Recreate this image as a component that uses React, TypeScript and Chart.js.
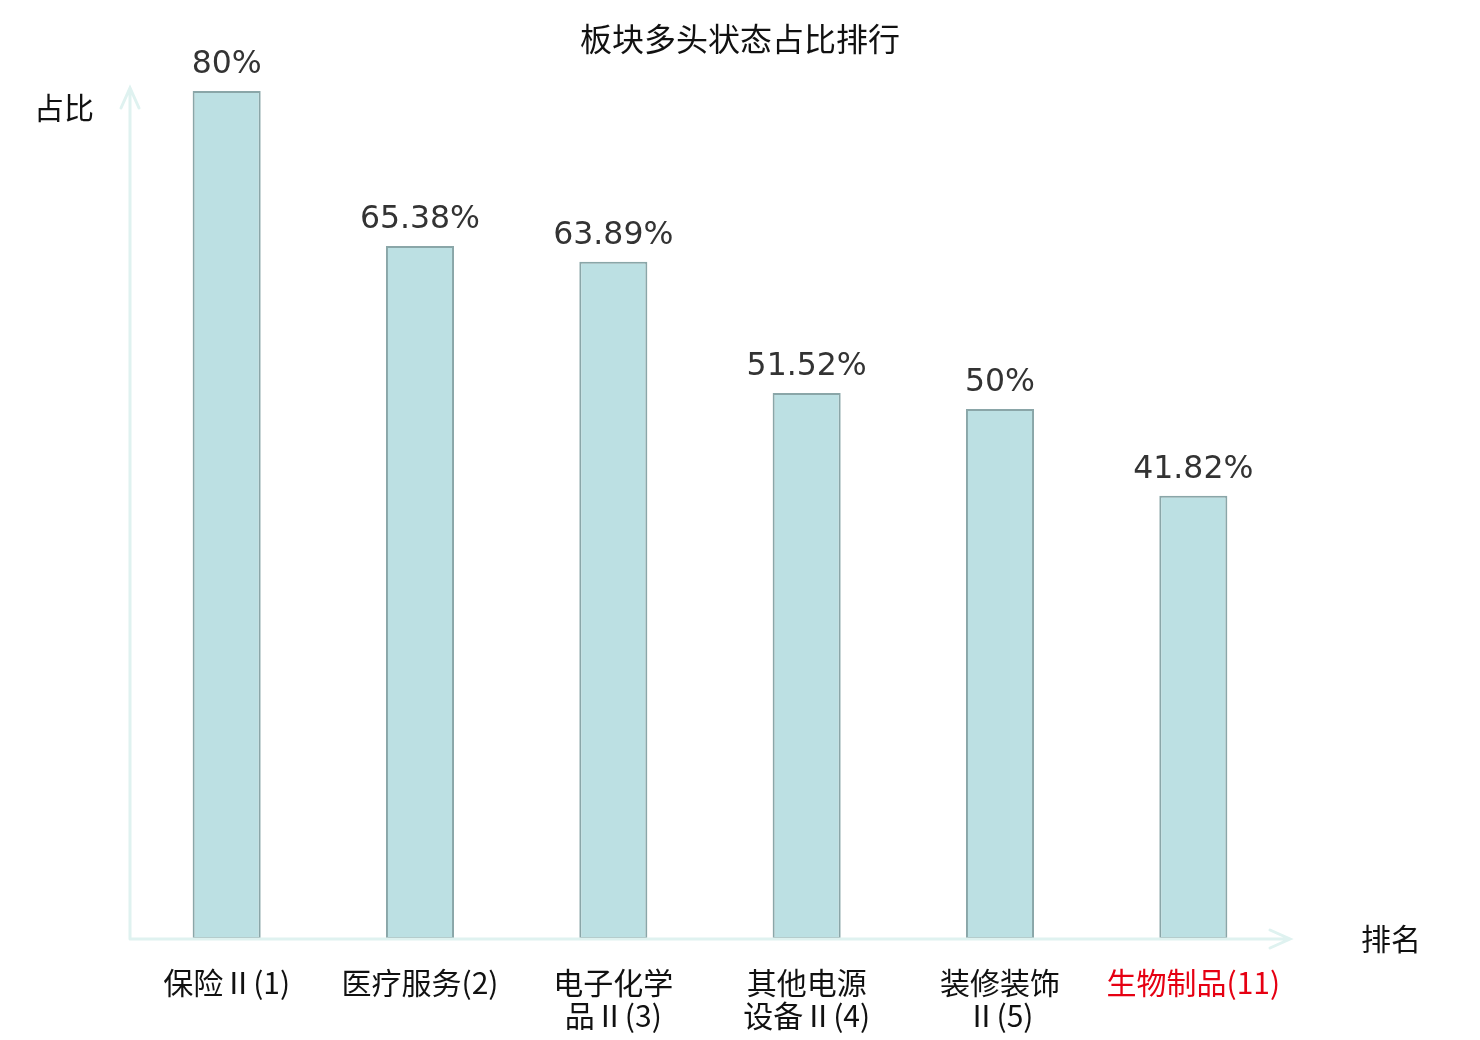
import { useEffect, useRef } from 'react';
import { Chart, registerables } from 'chart.js';

Chart.register(...registerables);

// 板块名称（已按换行拆分）
const categories: string[][] = [
  ['保险Ⅱ(1)'],
  ['医疗服务(2)'],
  ['电子化学', '品Ⅱ(3)'],
  ['其他电源', '设备Ⅱ(4)'],
  ['装修装饰', 'Ⅱ(5)'],
  ['生物制品(11)'],
];
// 多头状态占比 (%)
const ratios: number[] = [80, 65.38, 63.89, 51.52, 50, 41.82];
// 需要高亮的板块下标
const highlighted: number[] = [5];

const title = '板块多头状态占比排行';
const yName = '占比';
const xName = '排名';

const axisColor = '#dff2f0';

const decorPlugin = {
  id: 'decor',
  afterDatasetsDraw(chart: Chart) {
    const { ctx, chartArea } = chart;
    const { left, right, top, bottom } = chartArea;
    ctx.save();

    // 坐标轴与箭头
    ctx.strokeStyle = axisColor;
    ctx.lineWidth = 3;
    ctx.lineCap = 'round';
    ctx.beginPath();
    ctx.moveTo(left, bottom);
    ctx.lineTo(right, bottom);
    ctx.moveTo(right - 20, bottom - 9);
    ctx.lineTo(right, bottom);
    ctx.lineTo(right - 20, bottom + 9);
    ctx.moveTo(left, bottom);
    ctx.lineTo(left, top - 3);
    ctx.moveTo(left - 9, top + 17);
    ctx.lineTo(left, top - 3);
    ctx.lineTo(left + 9, top + 17);
    ctx.stroke();

    // 数值标签
    const meta = chart.getDatasetMeta(0);
    ctx.fillStyle = '#333333';
    ctx.font = '31.5px "DejaVu Sans"';
    ctx.textAlign = 'center';
    ctx.textBaseline = 'alphabetic';
    meta.data.forEach((bar: any, i: number) => {
      ctx.fillText(ratios[i] + '%', bar.x, bar.y - 18);
    });

    // 标题与轴名称
    ctx.fillStyle = '#111111';
    ctx.font = '32px "DejaVu Sans", "Noto Sans CJK SC"';
    ctx.textBaseline = 'middle';
    ctx.fillText(title, chart.width / 2, 43);
    ctx.font = '30px "DejaVu Sans", "Noto Sans CJK SC"';
    ctx.textAlign = 'left';
    ctx.fillText(yName, 34, 111);
    ctx.fillText(xName, 1361, 942);
    ctx.restore();
  },
};

export default function App() {
  const canvasRef = useRef<HTMLCanvasElement>(null);

  useEffect(() => {
    document.body.style.margin = '0';
    if (!canvasRef.current) return;
    const chart = new Chart(canvasRef.current, {
      type: 'bar',
      data: {
        labels: categories,
        datasets: [
          {
            data: ratios,
            backgroundColor: '#bce0e3',
            borderColor: '#8aa6a8',
            borderWidth: 2,
            borderSkipped: false,
            barPercentage: 0.352,
            categoryPercentage: 1,
          },
        ],
      },
      options: {
        animation: false,
        responsive: false,
        devicePixelRatio: 1,
        layout: { padding: { top: 91, left: 130, right: 190, bottom: 0 } },
        plugins: {
          legend: { display: false },
          tooltip: { enabled: false },
        },
        scales: {
          x: {
            grid: { display: false, drawTicks: false },
            border: { display: false },
            afterFit(scale: any) {
              scale.height = 101;
            },
            ticks: {
              padding: 28,
              maxRotation: 0,
              autoSkip: false,
              font: { family: '"Noto Sans CJK SC"', size: 30, lineHeight: 1.07 },
              color: (c: any) => (highlighted.includes(c.index) ? '#e60012' : '#111111'),
            },
          },
          y: {
            display: false,
            min: 0,
            max: 80,
          },
        },
      },
      plugins: [decorPlugin],
    });
    return () => chart.destroy();
  }, []);

  return (
    <div style={{ position: 'fixed', left: 0, top: 0, width: 1480, height: 1040, background: '#fff' }}>
      <canvas ref={canvasRef} width={1480} height={1040} />
    </div>
  );
}
